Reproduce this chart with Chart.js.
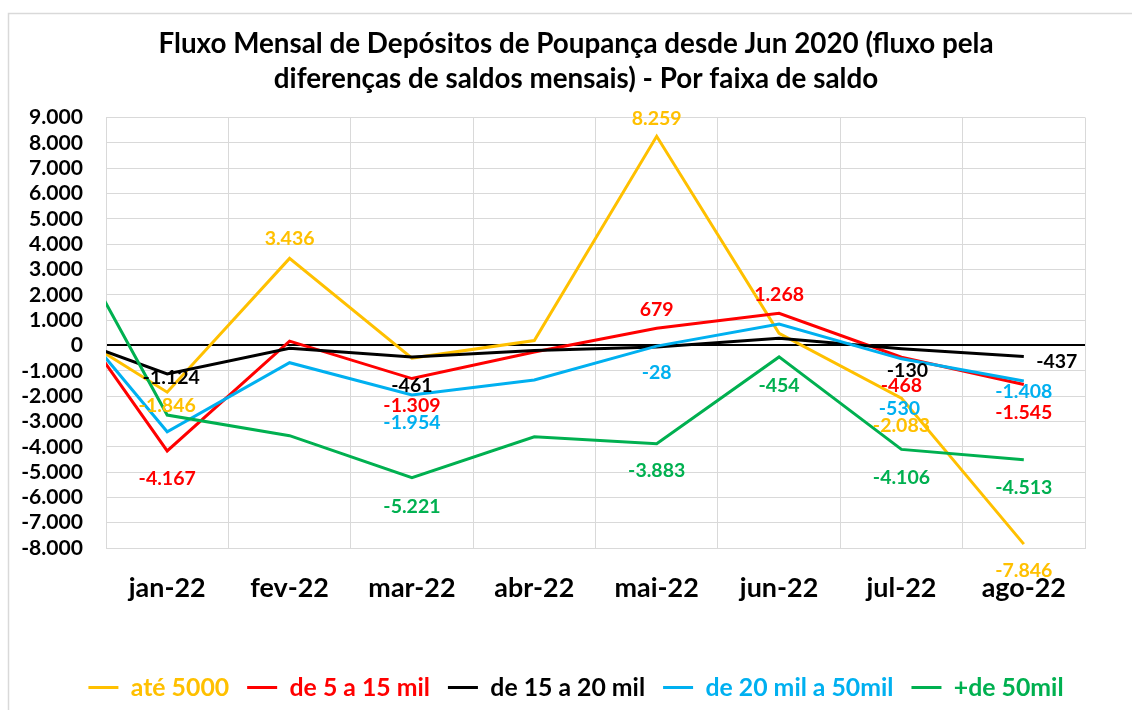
<!DOCTYPE html>
<html>
<head>
<meta charset="utf-8">
<script src="https://cdn.jsdelivr.net/npm/chart.js@4.4.1/dist/chart.umd.min.js"></script>
<style>html,body{margin:0;padding:0;background:#fff;}canvas{display:block;}</style>
</head>
<body>
<canvas id="c" width="1132" height="710"></canvas>
<script>
// ---------------- DATA ----------------
// 'dez-21' is the previous month, only partly visible at the left edge (axis starts at jan-22)
const categories = ['dez-21', 'jan-22', 'fev-22', 'mar-22', 'abr-22', 'mai-22', 'jun-22', 'jul-22', 'ago-22'];
const seriesNames = ['até 5000', 'de 5 a 15 mil', 'de 15 a 20 mil', 'de 20 mil a 50mil', '+de 50mil'];
const ate5000   = [1166, -1846, 3436, -500, 190, 8259, 480, -2083, -7846];
const de5a15    = [2697, -4167, 170, -1309, -260, 679, 1268, -468, -1545];
const de15a20   = [626, -1124, -115, -461, -200, -60, 280, -130, -437];
const de20a50   = [2388, -3408, -683, -1954, -1366, -28, 840, -530, -1408];
const mais50    = [6075, -2749, -3565, -5221, -3605, -3883, -454, -4106, -4513];
const yMin = -8000, yMax = 9000, yStep = 1000;
const titleLines = ['Fluxo Mensal de Depósitos de Poupança desde Jun 2020 (fluxo pela', 'diferenças de saldos mensais) - Por faixa de saldo'];

// ---------------- STYLE ----------------
const colors = ['#FFC000', '#FF0000', '#000000', '#00B0F0', '#00B050'];
const FAMILY = 'Lato, "Open Sans", sans-serif';
function fitSize(text, target) {
  const c = document.createElement('canvas').getContext('2d');
  c.font = 'bold 100px ' + FAMILY;
  return Math.round(1000 * target / c.measureText(text).width) / 10;
}
const titleSize = fitSize(titleLines[0], 834);
const yTickSize = fitSize('9.000', 54);
const xTickSize = fitSize('jan-22', 77);
const labelSize = fitSize('-4.167', 57);
const legendSize = fitSize('de 20 mil a 50mil', 188);
const legendPad = 18;
const legendHeight = legendSize + legendPad + 10;

function fmt(v) {
  const s = Math.abs(Math.round(v)).toString().replace(/\B(?=(\d{3})+(?!\d))/g, '.');
  return (v < 0 ? '-' : '') + s;
}

// label placement per series / category: [dx, dy] relative to the point, null = no label
const labelPlacement = [
  [null, [0, 11], [0, -23], null, null, [0, -21], null, [0, 25], [0, 24]],
  [null, [0, 25], null, [0, 24], null, [0, -21], [0, -22], [0, 25], [0, 25]],
  [null, [4, 1], null, [0, 26], null, null, null, [6, 19], [33, 2]],
  [null, null, null, [0, 25], null, [0, 24], null, [-2, 47], [0, 8]],
  [null, null, null, [0, 26], null, [0, 24], [0, 26], [0, 25], [0, 25]]
];
const labelShiftY = 3;

const bgBorder = {
  id: 'bgBorder',
  beforeDraw(chart) {
    const ctx = chart.ctx;
    ctx.save();
    ctx.fillStyle = '#fff';
    ctx.fillRect(0, 0, chart.width, chart.height);
    ctx.strokeStyle = '#d9d9d9';
    ctx.lineWidth = 1.5;
    ctx.beginPath();
    ctx.moveTo(8.5, chart.height);
    ctx.lineTo(8.5, 13.5);
    ctx.lineTo(chart.width, 13.5);
    ctx.stroke();
    ctx.restore();
  }
};

const dataLabels = {
  id: 'dataLabels',
  afterDatasetsDraw(chart) {
    const ctx = chart.ctx;
    ctx.save();
    ctx.font = 'bold ' + labelSize + 'px ' + FAMILY;
    ctx.textAlign = 'center';
    ctx.textBaseline = 'middle';
    chart.data.datasets.forEach((ds, di) => {
      const meta = chart.getDatasetMeta(di);
      ds.data.forEach((v, i) => {
        const p = labelPlacement[di][i];
        if (!p) return;
        const pt = meta.data[i];
        ctx.fillStyle = ds.borderColor;
        ctx.fillText(fmt(v), pt.x + p[0], pt.y + p[1] + labelShiftY);
      });
    });
    ctx.restore();
  }
};

const seriesValues = [ate5000, de5a15, de15a20, de20a50, mais50];
const datasets = seriesValues.map((vals, i) => ({
  label: seriesNames[i],
  data: vals,
  borderColor: colors[i],
  backgroundColor: colors[i],
  borderWidth: 3,
  pointRadius: 0,
  pointHoverRadius: 0,
  tension: 0,
  fill: false,
  clip: 0,
  order: seriesValues.length - i
}));

new Chart(document.getElementById('c'), {
  type: 'line',
  data: { labels: categories, datasets },
  plugins: [bgBorder, dataLabels],
  options: {
    responsive: false,
    animation: false,
    devicePixelRatio: 1,
    layout: { padding: { left: 20, right: 0, top: 0, bottom: 0 } },
    plugins: {
      tooltip: { enabled: false },
      title: {
        display: true,
        text: titleLines,
        color: '#000',
        font: { family: FAMILY, size: titleSize, weight: 'bold', lineHeight: 35 / titleSize },
        padding: { top: 26.5, bottom: 21 }
      },
      legend: {
        position: 'bottom',
        labels: {
          usePointStyle: true,
          pointStyle: 'line',
          pointStyleWidth: 30,
          padding: legendPad,
          font: { family: FAMILY, size: legendSize, weight: 'bold' },
          sort: (a, b) => a.datasetIndex - b.datasetIndex,
          generateLabels(chart) {
            const items = Chart.defaults.plugins.legend.labels.generateLabels(chart);
            items.forEach(it => {
              const ds = chart.data.datasets[it.datasetIndex];
              it.fontColor = ds.borderColor;
              it.strokeStyle = ds.borderColor;
              it.lineWidth = 3;
              it.pointStyle = 'line';
            });
            return items;
          }
        }
      }
    },
    scales: {
      x: {
        type: 'category',
        min: 'jan-22',
        offset: true,
        grid: { offset: true, color: '#d9d9d9', lineWidth: 1, drawTicks: false },
        border: { color: '#d9d9d9', width: 1 },
        ticks: { color: '#000', padding: 24, font: { family: FAMILY, size: xTickSize, weight: 'bold' }, maxRotation: 0, autoSkip: false },
        afterFit(scale) { scale.height = 710 - 548 - legendHeight; }
      },
      y: {
        min: yMin,
        max: yMax,
        grid: {
          drawTicks: false,
          color: c => (c.tick && c.tick.value === 0 ? '#000' : '#d9d9d9'),
          lineWidth: c => (c.tick && c.tick.value === 0 ? 2 : 1)
        },
        border: { color: '#d9d9d9', width: 1 },
        ticks: {
          stepSize: yStep,
          autoSkip: false,
          color: '#000',
          padding: 23,
          font: { family: FAMILY, size: yTickSize, weight: 'bold' },
          callback: v => fmt(v)
        },
        afterFit(scale) { scale.width = 86; }
      },
      spacer: {
        type: 'linear',
        position: 'right',
        display: true,
        grid: { display: false, drawTicks: false },
        border: { display: false },
        ticks: { display: false },
        afterFit(scale) { scale.width = 47; }
      }
    }
  }
});
</script>
</body>
</html>
